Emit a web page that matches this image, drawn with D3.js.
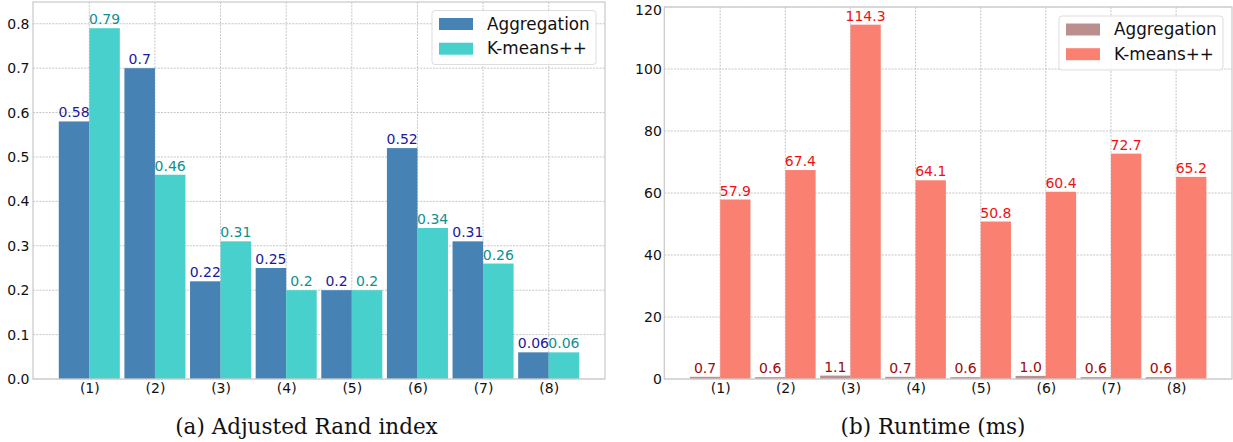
<!DOCTYPE html>
<html><head><meta charset="utf-8">
<script src="https://cdn.jsdelivr.net/npm/d3@7"></script>
<style>body{margin:0;background:#fff}svg{display:block}</style>
</head><body>
<svg id="c" width="1233" height="442"></svg>
<script>
const categories = ["(1)","(2)","(3)","(4)","(5)","(6)","(7)","(8)"];
const seriesNames = ["Aggregation","K-means++"];
const ariAggregation = [0.58, 0.7, 0.22, 0.25, 0.2, 0.52, 0.31, 0.06];
const ariKmeans = [0.79, 0.46, 0.31, 0.2, 0.2, 0.34, 0.26, 0.06];
const rtAggregation = [0.7, 0.6, 1.1, 0.7, 0.6, 1.0, 0.6, 0.6];
const rtKmeans = [57.9, 67.4, 114.3, 64.1, 50.8, 60.4, 72.7, 65.2];
const ariTicks = [0, 0.1, 0.2, 0.3, 0.4, 0.5, 0.6, 0.7, 0.8];
const rtTicks = [0, 20, 40, 60, 80, 100, 120];
const captions = ["(a)  Adjusted Rand index", "(b)  Runtime (ms)"];

const svg = d3.select("#c");
const FONT = "'DejaVu Sans', sans-serif";

function panel(cfg) {
  const g = svg.append("g");
  const x = d3.scaleLinear().domain([-0.858, 7.858]).range([cfg.x0, cfg.x1]);
  const y = d3.scaleLinear().domain([0, cfg.ymax]).range([cfg.y1, cfg.y0]);
  const bw = (x(1) - x(0)) * 0.465;

  // grid
  g.selectAll(".hg").data(cfg.ticks).join("line")
    .attr("x1", cfg.x0).attr("x2", cfg.x1)
    .attr("y1", d => y(d)).attr("y2", d => y(d))
    .attr("stroke", "#b8b8b8").attr("stroke-width", 0.8).attr("stroke-dasharray", "2,1.2");
  g.selectAll(".vg").data(categories).join("line")
    .attr("x1", (d, i) => x(i)).attr("x2", (d, i) => x(i))
    .attr("y1", cfg.y0).attr("y2", cfg.y1)
    .attr("stroke", "#b8b8b8").attr("stroke-width", 0.8).attr("stroke-dasharray", "2,1.2");

  // bars
  const series = [cfg.a, cfg.b];
  series.forEach((vals, s) => {
    g.selectAll(".bar" + s).data(vals).join("rect")
      .attr("x", (d, i) => s === 0 ? x(i) - bw : x(i))
      .attr("width", bw)
      .attr("y", d => y(d))
      .attr("height", d => y(0) - y(d))
      .attr("fill", cfg.colors[s]);
    g.selectAll(".lab" + s).data(vals).join("text")
      .attr("x", (d, i) => (s === 0 ? x(i) - bw / 2 : x(i) + bw / 2))
      .attr("y", d => y(d) - 4)
      .attr("text-anchor", "middle")
      .style("font-family", FONT).style("font-size", "14px")
      .attr("fill", cfg.labelColors[s])
      .text(d => cfg.fmt(d));
  });

  // frame
  g.append("rect").attr("x", cfg.x0).attr("y", cfg.y0)
    .attr("width", cfg.x1 - cfg.x0).attr("height", cfg.y1 - cfg.y0)
    .attr("fill", "none").attr("stroke", "#cccccc").attr("stroke-width", 1.3);

  // y axis
  const ya = g.append("g").attr("transform", `translate(${cfg.x0},0)`)
    .call(d3.axisLeft(y).tickValues(cfg.ticks).tickSize(0).tickPadding(cfg.ypad).tickFormat(cfg.tfmt));
  ya.select(".domain").remove();
  ya.selectAll("text").style("font-family", FONT).style("font-size", "14px").attr("fill", "#111");
  ya.selectAll(".tick").filter(d => y(d) < 10).select("text").attr("dy", "0.5em");

  // x axis
  const xa = g.append("g").attr("transform", `translate(0,${cfg.y1})`)
    .call(d3.axisBottom(x).tickValues(d3.range(categories.length)).tickSize(0).tickPadding(4).tickFormat(i => categories[i]));
  xa.select(".domain").remove();
  xa.selectAll("text").style("font-family", FONT).style("font-size", "14px").attr("fill", "#111");

  // legend
  const lg = g.append("g");
  lg.append("rect").attr("x", cfg.lx).attr("y", cfg.ly)
    .attr("width", 164).attr("height", 54).attr("rx", 3)
    .attr("fill", "rgba(255,255,255,0.85)").attr("stroke", "#dddddd");
  seriesNames.forEach((n, s) => {
    lg.append("rect").attr("x", cfg.lx + 7).attr("y", cfg.ly + 7.5 + s * 24.7)
      .attr("width", 34).attr("height", 12).attr("fill", cfg.colors[s]);
    lg.append("text").attr("x", cfg.lx + 55).attr("y", cfg.ly + 19 + s * 24.7)
      .style("font-family", FONT).style("font-size", "16.8px").attr("fill", "#111").text(n);
  });

  // caption
  g.append("text").attr("x", cfg.cx).attr("y", 434).attr("text-anchor", "middle")
    .style("font-family", "'DejaVu Serif', serif").style("font-size", "21.5px").attr("fill", "#111")
    .text(cfg.caption);
}

panel({
  x0: 33, x1: 605, y0: 2, y1: 379, ymax: 0.849, ticks: ariTicks, ypad: 3.5,
  tfmt: d3.format(".1f"), a: ariAggregation, b: ariKmeans,
  colors: ["#4682B4", "#48D1CC"], labelColors: ["#1a1a9c", "#109090"],
  fmt: d => String(d), lx: 432, ly: 10.5, cx: 306.5, caption: captions[0]
});
panel({
  x0: 664.3, x1: 1232, y0: 7, y1: 379, ymax: 120, ticks: rtTicks, ypad: 2.5,
  tfmt: d3.format("d"), a: rtAggregation, b: rtKmeans,
  colors: ["#BC8F8F", "#FA8072"], labelColors: ["#9a0a0a", "#ee1111"],
  fmt: d => d.toFixed(1), lx: 1059, ly: 16, cx: 933, caption: captions[1]
});
</script>
</body></html>
